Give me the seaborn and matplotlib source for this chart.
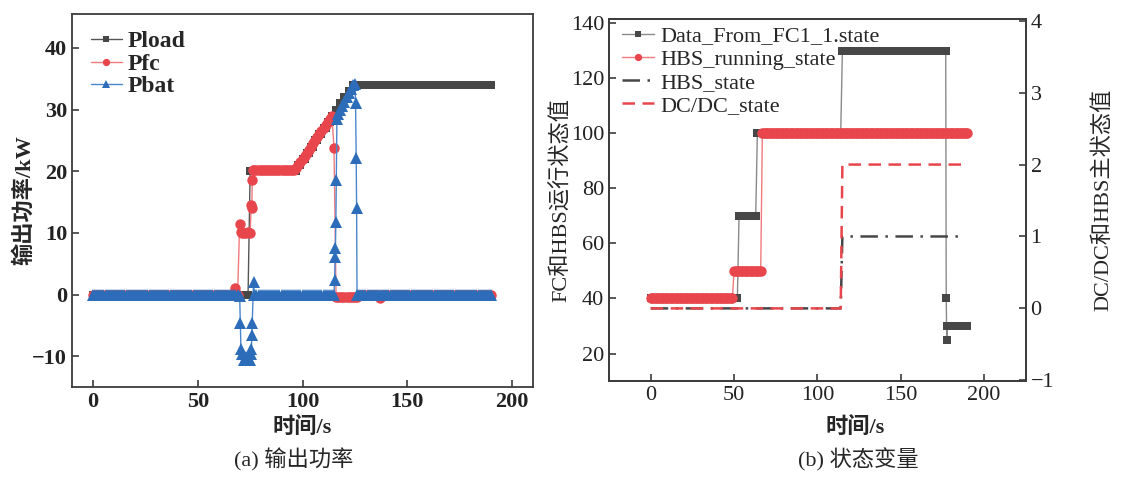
import numpy as np
import pandas as pd
import matplotlib
matplotlib.use('Agg')
import matplotlib.pyplot as plt
import seaborn as sns

# ---- (a) output power, kW ----
pload_t = list(range(0, 191))
pload_v = ([0] * 75 + [20] * 22 +
           [20, 21, 21, 22, 22, 23, 23, 24, 24, 25, 25, 26, 26, 27, 27,
            28, 28, 29, 29, 30, 30, 31, 31, 32, 32, 33, 33, 34] +
           [34] * 66)

pfc_t = (list(range(0, 70)) +
         [70, 70.5, 71, 72, 73, 74, 75, 75.5, 75.8, 76, 76.5] +
         list(range(77, 191)))
pfc_v = ([0] * 68 + [1.0, 0] +
         [11.5, 10.2, 10, 10, 10, 10.2, 10, 14.5, 14, 18.5, 20.2] +
         [20.2] * 20 +
         [20.5, 21, 21.5, 22, 22.5, 23, 23.5, 24, 24.5, 25, 25.5, 26, 26.5,
          27, 27.5, 28, 28.5, 29] +
         [23.8] + [-0.4] * 11 + [0] * 10 + [-0.6] + [0] * 53)

pbat_t = (list(range(0, 70)) +
          [70, 70.3, 70.6, 71, 72, 73, 74, 75, 75.4, 75.6, 75.8, 76, 76.6] +
          list(range(77, 116)) +
          [115.3, 115.5, 115.7, 115.9, 116.1, 116.4] +
          list(range(117, 126)) +
          [125.3, 125.6, 125.8] +
          list(range(126, 191)))
pbat_v = ([0] * 70 +
          [-0.3, -4.6, -8.8, -9.6, -10.6, -10.2, -10.6, -10.6, -9.6, -8.8, -6.5, -4.6, 2.0] +
          [0] * 39 +
          [2.4, 6.1, 7.6, 11.8, 18.5, 28.5] +
          [29.2, 29.9, 30.6, 31.3, 32.0, 32.7, 33.4, 34.0, 34.2] +
          [31, 22.2, 14] +
          [0] * 65)

# ---- (b) state variables ----
fc_t = list(range(0, 177)) + [177.0, 177.3, 177.6] + list(range(178, 191))
fc_v = [40] * 53 + [70] * 11 + [100] * 51 + [130] * 62 + [130, 40, 25] + [30] * 13

run_t = list(range(0, 191))
run_v = [40] * 50 + [50] * 17 + [100] * 124

st_t = list(range(0, 189))
hbs_state = [0] * 115 + [1] * 74
dcdc_state = [0] * 115 + [2] * 74

GRAY = '#474747'
RED = '#e8464c'
BLUE = '#2c6cb8'
SPINE = '#3c3c3c'

sns.set_style('ticks')
plt.rcParams['font.family'] = ['Liberation Serif', 'Noto Sans CJK SC']
plt.rcParams['axes.unicode_minus'] = True

fig = plt.figure(figsize=(11.22, 4.78), dpi=100)
ax1 = fig.add_axes([0.0642, 0.1904, 0.4109, 0.7803])
ax2 = fig.add_axes([0.5428, 0.2029, 0.3714, 0.7567])
ax2r = ax2.twinx()


def style_axes(ax):
    for s in ax.spines.values():
        s.set_color(SPINE)
        s.set_linewidth(1.3)
    ax.tick_params(direction='in', length=5, width=1.2, color=SPINE,
                   labelsize=16, labelcolor='#222222')


# left panel
sns.lineplot(x=pload_t, y=pload_v, ax=ax1, estimator=None, sort=False,
             color='#555555', linewidth=1.0, marker='s', markersize=6,
             markerfacecolor=GRAY, markeredgecolor=GRAY, markeredgewidth=0,
             label='Pload')
sns.lineplot(x=pfc_t, y=pfc_v, ax=ax1, estimator=None, sort=False,
             color='#f07a7e', linewidth=1.0, marker='o', markersize=7.5,
             markerfacecolor=RED, markeredgecolor=RED, markeredgewidth=0,
             label='Pfc')
sns.lineplot(x=pbat_t, y=pbat_v, ax=ax1, estimator=None, sort=False,
             color='#4a86cc', linewidth=1.0, marker='^', markersize=8.2,
             markerfacecolor=BLUE, markeredgecolor=BLUE, markeredgewidth=0,
             label='Pbat')
ax1.set_xlim(-10, 210)
ax1.set_ylim(-15, 45.5)
ax1.set_xticks([0, 50, 100, 150, 200])
ax1.set_yticks([-10, 0, 10, 20, 30, 40])
style_axes(ax1)
for lab in ax1.get_xticklabels() + ax1.get_yticklabels():
    lab.set_fontweight('bold')
ax1.set_xlabel('时间/s', fontsize=16, fontweight='bold')
ax1.set_ylabel('输出功率/kW', fontsize=16, fontweight='bold')
ax1.xaxis.set_label_coords(0.5, -0.08)
ax1.yaxis.set_label_coords(-0.08, 0.5)
ax1.legend(loc='upper left', bbox_to_anchor=(0.005, 1.0), frameon=False,
           prop={'weight': 'bold', 'size': 17}, handlelength=1.3,
           handletextpad=0.25, labelspacing=0.05, borderpad=0.2,
           markerscale=0.7)

# right panel
sns.lineplot(x=fc_t, y=fc_v, ax=ax2, estimator=None, sort=False,
             color='#8a8a8a', linewidth=1.0, marker='s', markersize=6.2,
             markerfacecolor=GRAY, markeredgecolor=GRAY, markeredgewidth=0,
             label='Data_From_FC1_1.state')
sns.lineplot(x=run_t, y=run_v, ax=ax2, estimator=None, sort=False,
             color='#f07a7e', linewidth=1.0, marker='o', markersize=7.5,
             markerfacecolor=RED, markeredgecolor=RED, markeredgewidth=0,
             label='HBS_running_state')
sns.lineplot(x=st_t, y=hbs_state, ax=ax2r, estimator=None, sort=False,
             color=GRAY, linewidth=1.8, linestyle=(0, (7, 3, 1, 3)),
             label='HBS_state')
sns.lineplot(x=st_t, y=dcdc_state, ax=ax2r, estimator=None, sort=False,
             color=RED, linewidth=1.8, linestyle=(0, (5, 3)),
             label='DC/DC_state')
ax2.set_xlim(-25, 225)
ax2.set_ylim(10, 141.5)
ax2r.set_ylim(-1.01, 4.02)
ax2.set_xticks([0, 50, 100, 150, 200])
ax2.set_yticks([20, 40, 60, 80, 100, 120, 140])
ax2r.set_yticks([-1, 0, 1, 2, 3, 4])
style_axes(ax2)
style_axes(ax2r)
ax2.set_xlabel('时间/s', fontsize=16, fontweight='bold')
ax2.set_ylabel('FC和HBS运行状态值', fontsize=16)
ax2r.set_ylabel('DC/DC和HBS主状态值', fontsize=16)
ax2.xaxis.set_label_coords(0.59, -0.1)
ax2.yaxis.set_label_coords(-0.089, 0.5)
ax2r.yaxis.set_label_coords(1.161, 0.5)

h1, l1 = ax2.get_legend_handles_labels()
h2, l2 = ax2r.get_legend_handles_labels()
if ax2r.get_legend() is not None:
    ax2r.get_legend().remove()
ax2.legend(h1 + h2, l1 + l2, loc='upper left', bbox_to_anchor=(-0.005, 1.025),
           frameon=False, fontsize=16, handlelength=1.4, handletextpad=0.3,
           labelspacing=0.12, borderpad=0.2, markerscale=0.7)

fig.text(294 / 1122, 1 - 460 / 478, '(a) 输出功率', ha='center', va='center', fontsize=16)
fig.text(858 / 1122, 1 - 460 / 478, '(b) 状态变量', ha='center', va='center', fontsize=16)

fig.savefig('out.png', dpi=100)
